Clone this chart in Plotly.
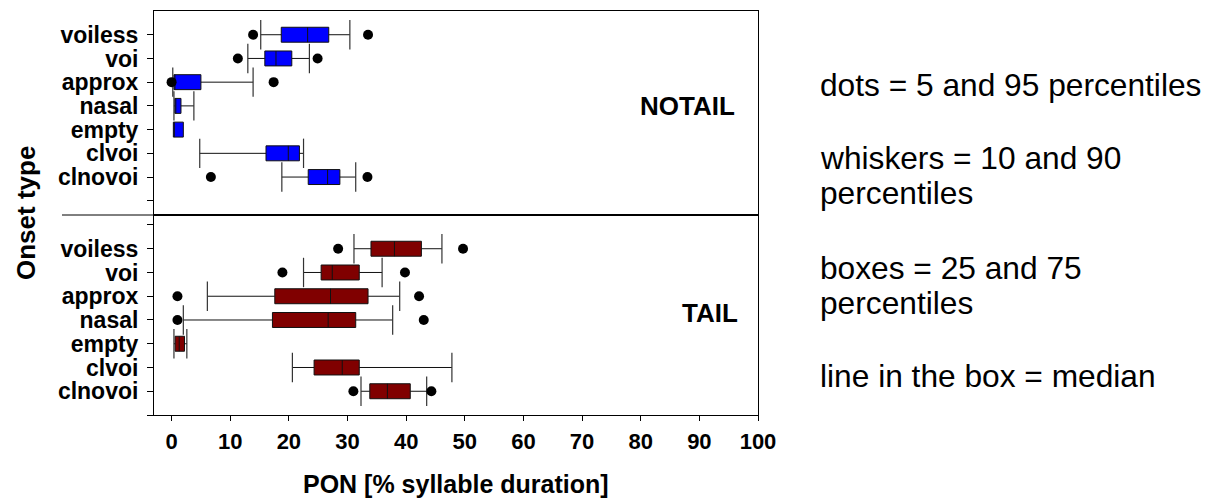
import plotly.graph_objects as go
from plotly.subplots import make_subplots

categories = ["voiless", "voi", "approx", "nasal", "empty", "clvoi", "clnovoi"]

# NOTAIL panel (percentiles of PON, % syllable duration)
nt_p5 = [13.9, 11.3, 0.0, None, None, None, 6.7]
nt_p10 = [15.2, 13.0, 0.2, 0.4, None, 4.8, 18.8]
nt_q1 = [18.7, 15.9, 0.4, 0.55, 0.3, 16.1, 23.3]
nt_med = [23.2, 17.8, 0.5, 0.7, 0.4, 19.9, 26.6]
nt_q3 = [26.8, 20.5, 5.0, 1.6, 2.0, 21.8, 28.7]
nt_p90 = [30.4, 23.5, 13.9, 3.8, None, 22.5, 31.4]
nt_p95 = [33.5, 24.9, 17.4, None, None, None, 33.4]

# TAIL panel
t_p5 = [28.4, 18.9, 1.0, 1.0, None, None, 31.0]
t_p10 = [31.1, 22.5, 6.1, 2.0, 0.4, 20.6, 32.3]
t_q1 = [34.0, 25.5, 17.6, 17.2, 0.6, 24.3, 33.8]
t_med = [38.0, 27.4, 27.1, 26.7, 1.3, 29.1, 36.8]
t_q3 = [42.6, 32.0, 33.5, 31.4, 2.2, 32.0, 40.7]
t_p90 = [46.1, 35.9, 38.9, 37.7, 2.6, 47.8, 43.5]
t_p95 = [49.7, 39.8, 42.2, 43.0, None, None, 44.3]

x_ticks = list(range(0, 101, 10))
panel_labels = ["NOTAIL", "TAIL"]
legend_lines = ["dots = 5 and 95 percentiles", "whiskers = 10 and 90", "percentiles",
                "boxes = 25 and 75", "percentiles", "line in the box = median"]

# the page body has an 8px margin; size the figure so it fits the 1217x503 window
OFF = 8
W, H = 1217 - OFF, 503 - OFF
plot_left, plot_right, plot_top, plot_bottom = 154, 758, 11, 415   # window pixels
L = plot_left - OFF
R = W - (plot_right - OFF)
T = plot_top - OFF
B = H - (plot_bottom - OFF)
plot_w = W - L - R
plot_h = H - T - B
div_px = 215


def px_x(p):
    return (p - OFF - L) / plot_w


def px_y(p):
    return (H - B - (p - OFF)) / plot_h


split = px_y(div_px)

fig = make_subplots(rows=2, cols=1, shared_xaxes=True, vertical_spacing=0)

pos = list(range(1, len(categories) + 1))
FONT = "Liberation Sans, Arial, sans-serif"


def add_panel(row, p5, p10, q1, med, q3, p90, p95, color):
    lf = [a if a is not None else b for a, b in zip(p10, q1)]
    uf = [a if a is not None else b for a, b in zip(p90, q3)]
    fig.add_trace(go.Box(
        y=pos, q1=q1, median=med, q3=q3, lowerfence=lf, upperfence=uf,
        orientation="h", fillcolor=color, width=0.63, whiskerwidth=0,
        line=dict(color="#111111", width=1), boxpoints=False, showlegend=False,
        hoverinfo="skip"), row=row, col=1)
    cx, cy = [], []
    for i, (a, b) in enumerate(zip(p10, p90)):
        for v in (a, b):
            if v is not None:
                cx.append(v)
                cy.append(pos[i])
    fig.add_trace(go.Scatter(
        x=cx, y=cy, mode="markers",
        marker=dict(symbol="line-ns", size=21, line=dict(color="#333333", width=1.2)),
        showlegend=False, hoverinfo="skip"), row=row, col=1)
    dx, dy = [], []
    for i, (a, b) in enumerate(zip(p5, p95)):
        for v in (a, b):
            if v is not None:
                dx.append(v)
                dy.append(pos[i])
    fig.add_trace(go.Scatter(
        x=dx, y=dy, mode="markers",
        marker=dict(symbol="circle", size=10, color="black"),
        showlegend=False, hoverinfo="skip"), row=row, col=1)


add_panel(1, nt_p5, nt_p10, nt_q1, nt_med, nt_q3, nt_p90, nt_p95, "#0000FF")
add_panel(2, t_p5, t_p10, t_q1, t_med, t_q3, t_p90, t_p95, "#800000")

axis_common = dict(showline=True, linecolor="black", linewidth=1, mirror=True,
                   showgrid=False, zeroline=False)

fig.update_xaxes(range=[-3, 100], **axis_common)
fig.update_xaxes(showticklabels=False, ticks="", row=1, col=1)
fig.update_xaxes(tickvals=x_ticks, ticks="outside", ticklen=5, tickcolor="black",
                 tickfont=dict(family=FONT, size=22, color="black", weight="bold"),
                 ticklabelstandoff=2, row=2, col=1)

ytick_font = dict(family=FONT, size=23, color="black", weight="bold")
fig.update_yaxes(**axis_common)
fig.update_yaxes(range=[8.6, 0], tickvals=pos + [8], ticktext=categories + [""],
                 ticks="outside", ticklen=6, tickcolor="black", tickfont=ytick_font,
                 ticklabelstandoff=4, row=1, col=1)
fig.update_yaxes(range=[8, -0.42], tickvals=[0] + pos + [8], ticktext=[""] + categories + [""],
                 ticks="outside", ticklen=6, tickcolor="black", tickfont=ytick_font,
                 ticklabelstandoff=4, row=2, col=1)

fig.update_layout(
    width=W, height=H, margin=dict(l=L, r=R, t=T, b=B),
    paper_bgcolor="white", plot_bgcolor="white",
    yaxis=dict(domain=[split, 1]), yaxis2=dict(domain=[0, split]),
)

# divider line extending into label area
fig.add_shape(type="line", xref="paper", yref="paper",
              x0=px_x(62), x1=1, y0=split, y1=split,
              line=dict(color="black", width=1))

# panel labels
fig.add_annotation(text="<b>" + panel_labels[0] + "</b>", xref="paper", yref="paper",
                   x=px_x(737), y=px_y(106), xanchor="right", yanchor="middle",
                   showarrow=False, font=dict(family=FONT, size=26, color="black"))
fig.add_annotation(text="<b>" + panel_labels[1] + "</b>", xref="paper", yref="paper",
                   x=px_x(740), y=px_y(313), xanchor="right", yanchor="middle",
                   showarrow=False, font=dict(family=FONT, size=26, color="black"))

# axis titles
fig.add_annotation(text="<b>PON [% syllable duration]</b>", xref="paper", yref="paper",
                   x=px_x(456), y=px_y(484), xanchor="center", yanchor="middle",
                   showarrow=False, font=dict(family=FONT, size=25, color="black"))
fig.add_annotation(text="<b>Onset type</b>", xref="paper", yref="paper",
                   x=px_x(26), y=px_y(213), textangle=-90, xanchor="center",
                   showarrow=False, font=dict(family=FONT, size=26, color="black"))

# explanatory legend text
line_y = [85, 158, 193, 268, 303, 376]
for txt, yp in zip(legend_lines, line_y):
    fig.add_annotation(text=txt, xref="paper", yref="paper",
                       x=px_x(818), y=px_y(yp),
                       xanchor="left", yanchor="middle", showarrow=False,
                       font=dict(family=FONT, size=31.7, color="black"))

fig.write_html("out.html")
